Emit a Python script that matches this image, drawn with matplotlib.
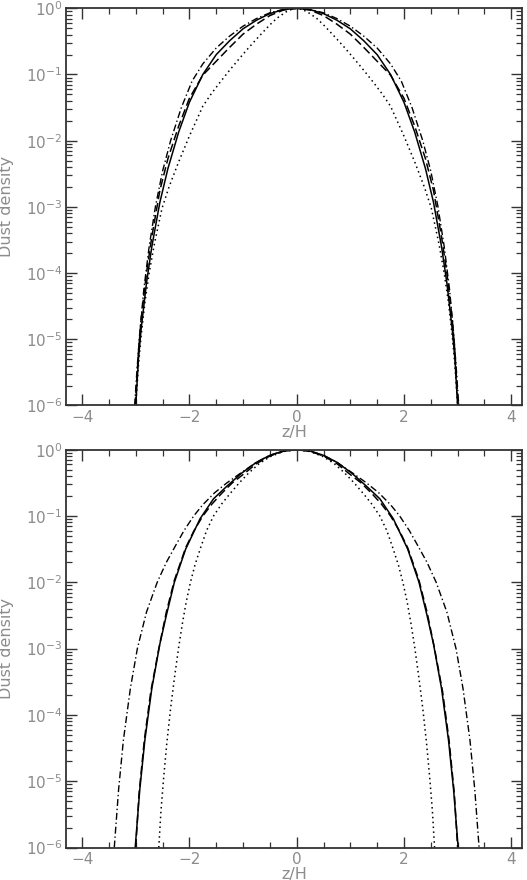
import numpy as np
import matplotlib
matplotlib.use("Agg")
import matplotlib.pyplot as plt
from matplotlib.ticker import FixedLocator, MultipleLocator, LogFormatterSciNotation

# ---- data: half profiles (z/H >= 0), values are log10(dust density) ----
# top panel
top_solid_z   = [0, 0.25, 0.5, 0.75, 1.0, 1.25, 1.5, 1.75, 2.0, 2.2, 2.4, 2.55, 2.7, 2.8, 2.9, 2.95, 3.0]
top_solid_lg  = [0, -0.02, -0.08, -0.18, -0.31, -0.49, -0.70, -1.0, -1.42, -1.87, -2.42, -2.93, -3.6, -4.15, -4.85, -5.3, -6.0]
top_dash_z    = [0, 0.25, 0.5, 0.75, 1.0, 1.25, 1.5, 1.75, 2.0, 2.2, 2.4, 2.55, 2.7, 2.8, 2.9, 2.95, 3.01]
top_dash_lg   = [0, -0.027, -0.11, -0.24, -0.39, -0.59, -0.8, -1.01, -1.36, -1.78, -2.27, -2.75, -3.45, -4.0, -4.7, -5.2, -6.0]
top_dot_z     = [0, 0.1, 0.2, 0.37, 0.5, 0.71, 0.9, 1.085, 1.27, 1.45, 1.6, 1.75, 2.0, 2.2, 2.38, 2.51, 2.65, 2.75, 2.83, 2.9, 2.95, 3.0]
top_dot_lg    = [0, -0.018, -0.055, -0.15, -0.25, -0.43, -0.6, -0.775, -0.955, -1.14, -1.3, -1.48, -1.93, -2.32, -2.7, -3.02, -3.55, -4.0, -4.45, -4.95, -5.4, -6.0]
top_dd_z      = [0, 0.25, 0.5, 0.75, 1.0, 1.25, 1.5, 1.75, 1.95, 2.15, 2.35, 2.5, 2.63, 2.75, 2.85, 2.93, 2.98, 3.02]
top_dd_lg     = [0, -0.017, -0.068, -0.155, -0.27, -0.42, -0.60, -0.84, -1.1, -1.5, -2.0, -2.46, -2.98, -3.6, -4.25, -4.95, -5.5, -6.0]

# bottom panel
bot_solid_z   = [0, 0.25, 0.5, 0.75, 1.03, 1.3, 1.55, 1.8, 2.07, 2.28, 2.43, 2.55, 2.7, 2.83, 2.925, 3.01]
bot_solid_lg  = [0, -0.02, -0.085, -0.19, -0.356, -0.55, -0.74, -1.04, -1.5, -2.0, -2.5, -2.93, -3.6, -4.38, -5.13, -6.0]
bot_dash_z    = [0, 0.25, 0.5, 0.75, 0.97, 1.2, 1.4, 1.58, 1.75, 1.92, 2.07, 2.28, 2.43, 2.57, 2.72, 2.84, 2.94, 3.0]
bot_dash_lg   = [0, -0.024, -0.095, -0.21, -0.356, -0.5, -0.66, -0.82, -1.0, -1.23, -1.48, -1.97, -2.45, -3.0, -3.65, -4.38, -5.2, -6.0]
bot_dot_z     = [0, 0.25, 0.5, 0.7, 0.9, 1.07, 1.24, 1.4, 1.55, 1.68, 1.8, 1.9, 1.98, 2.06, 2.13, 2.2, 2.28, 2.35, 2.42, 2.48, 2.53, 2.57]
bot_dot_lg    = [0, -0.027, -0.107, -0.21, -0.356, -0.5, -0.66, -0.82, -1.0, -1.22, -1.5, -1.75, -2.0, -2.3, -2.62, -2.98, -3.45, -3.9, -4.42, -4.95, -5.45, -6.0]
bot_dd_z      = [0, 0.25, 0.5, 0.75, 1.05, 1.3, 1.53, 1.75, 1.92, 2.1, 2.26, 2.43, 2.6, 2.8, 2.97, 3.1, 3.23, 3.32, 3.40]
bot_dd_lg     = [0, -0.02, -0.085, -0.19, -0.356, -0.5, -0.65, -0.83, -1.0, -1.22, -1.45, -1.7, -2.0, -2.45, -3.0, -3.6, -4.38, -5.13, -6.0]

x_label = "z/H"
y_label = "Dust density"
x_limits = (-4.3, 4.2)
y_limits = (1e-6, 1.0)
x_major_ticks = [-4, -2, 0, 2, 4]
y_major_decades = [-6, -5, -4, -3, -2, -1, 0]


def full_profile(zh, lg):
    zh = np.asarray(zh, float)
    lg = np.asarray(lg, float)
    z = np.concatenate([-zh[::-1], zh[1:]])
    v = np.concatenate([lg[::-1], lg[1:]])
    return z, 10.0 ** v


gray = "#8c8c8c"
plt.rcParams["font.family"] = ["DejaVu Sans"]

fig = plt.figure(figsize=(5.27, 8.80), dpi=100)
W, H = 527.0, 880.0
ax_top = fig.add_axes([66 / W, 1 - 405.5 / H, 456 / W, 397.2 / H])
ax_bot = fig.add_axes([66 / W, 1 - 847.5 / H, 456 / W, 397.8 / H])

panels = [
    (ax_top, 397.2, [(top_solid_z, top_solid_lg), (top_dash_z, top_dash_lg),
                     (top_dot_z, top_dot_lg), (top_dd_z, top_dd_lg)]),
    (ax_bot, 397.8, [(bot_solid_z, bot_solid_lg), (bot_dash_z, bot_dash_lg),
                     (bot_dot_z, bot_dot_lg), (bot_dd_z, bot_dd_lg)]),
]
styles = [
    dict(ls="-", lw=1.1),
    dict(ls=(0, (5.5, 2.5)), lw=1.1),
    dict(ls=(0, (1, 2.2)), lw=1.1),
    dict(ls=(0, (5, 2, 1, 2)), lw=1.0),
]

y_major = [10.0 ** d for d in y_major_decades]
y_minor = [m * 10.0 ** d for d in y_major_decades[:-1] for m in range(2, 10)]
x_minor = [v for v in np.arange(-4.0, 4.01, 0.5) if v not in x_major_ticks]

for ax, hpx, curves in panels:
    for (zh, lg), st in zip(curves, styles):
        z, v = full_profile(zh, lg)
        ax.plot(z, v, color="black", **st)
    ax.set_yscale("log")
    ax.set_xlim(*x_limits)
    ax.set_ylim(*y_limits)
    ax.xaxis.set_major_locator(FixedLocator(x_major_ticks))
    ax.xaxis.set_minor_locator(FixedLocator(x_minor))
    ax.yaxis.set_major_locator(FixedLocator(y_major))
    ax.yaxis.set_minor_locator(FixedLocator(y_minor))
    ax.yaxis.set_major_formatter(LogFormatterSciNotation())
    ax.yaxis.set_minor_formatter(plt.NullFormatter())
    ax.tick_params(which="both", direction="in", top=True, right=True,
                   color="#333333", labelcolor=gray, labelsize=11)
    ax.tick_params(which="major", length=8, width=1.0)
    ax.tick_params(which="minor", length=4.5, width=0.9)
    ax.tick_params(axis="x", which="major", pad=3)
    ax.tick_params(axis="y", which="major", pad=2.5)
    for sp in ax.spines.values():
        sp.set_linewidth(1.3)
        sp.set_color("#333333")
    ax.set_xlabel(x_label, color=gray, fontsize=11.5)
    ax.xaxis.set_label_coords(0.5, -19.0 / hpx)
    ax.set_ylabel(y_label, color=gray, fontsize=11.5)
    ax.yaxis.set_label_coords(-52.0 / 456.0, 0.5)

fig.savefig("out.png", dpi=100)
